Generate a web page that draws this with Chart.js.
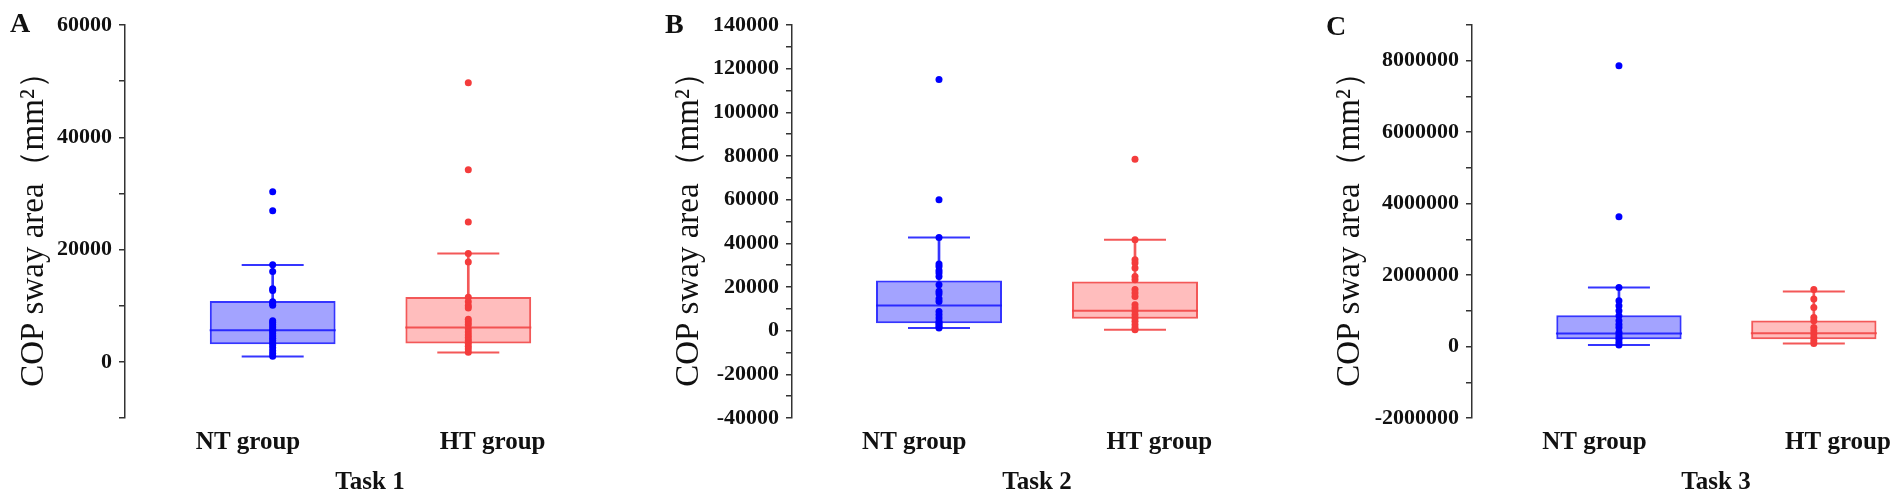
<!DOCTYPE html>
<html>
<head>
<meta charset="utf-8">
<script src="https://cdn.jsdelivr.net/npm/chart.js@4.4.1/dist/chart.umd.min.js"></script>
<style>
  html, body { margin: 0; padding: 0; background: #fff; width: 1902px; height: 501px; overflow: hidden; }
  canvas { position: absolute; top: 0; }
  .letter { position: absolute; font: bold 28px 'Liberation Serif', 'Times New Roman', serif; line-height: 28px; color: #111; }
</style>
</head>
<body>
<canvas id="chartA" width="615" height="501" style="left:0px"></canvas>
<canvas id="chartB" width="662" height="501" style="left:620px"></canvas>
<canvas id="chartC" width="670" height="501" style="left:1290px"></canvas>
<div class="letter" style="left:10px;top:9px">A</div>
<div class="letter" style="left:665px;top:10px">B</div>
<div class="letter" style="left:1326px;top:12px">C</div>
<script>
// Categories and captions
const groups = ['NT group', 'HT group'];
const tasks = ['Task 1', 'Task 2', 'Task 3'];
const yTitle = 'COP sway area（mm²）';

// Box summaries: [lower whisker, Q1, median, Q3, upper whisker]
const task1NT = [960, 3150, 5640, 10840, 17250];
const task1HT = [1670, 3270, 6110, 11560, 19320];
const task2NT = [1220, 3340, 11580, 23010, 42690];
const task2HT = [460, 5490, 9150, 22560, 41630];
const task3NT = [45000, 204000, 364000, 876000, 1652000];
const task3HT = [84000, 204000, 373000, 728000, 1540000];

// Individual subjects (estimated)
const task1NTPoints = [30300, 26900, 17300, 16100, 13000, 12700, 10700, 10400, 10100, 7300, 7000, 6600, 6200, 5800, 5400, 5000, 4600, 4200, 3800, 3400, 3000, 2500, 2000, 1500, 1000];
const task1HTPoints = [49700, 34200, 24900, 19300, 17800, 11500, 10700, 10000, 9600, 7600, 7100, 6600, 5900, 5300, 4800, 4300, 3800, 3300, 2800, 2300, 1700];
const task2NTPoints = [115000, 60000, 42700, 30500, 29400, 27600, 26400, 24800, 21000, 18000, 16900, 14600, 13400, 8800, 7300, 5800, 4300, 3400, 2700, 1900, 1200];
const task2HTPoints = [78500, 41600, 32500, 31000, 28700, 24800, 23300, 18800, 17200, 15700, 11900, 10400, 9000, 7300, 5800, 4300, 2700, 1200, 460];
const task3NTPoints = [7860000, 3630000, 1650000, 1280000, 1140000, 1000000, 860000, 720000, 620000, 530000, 400000, 320000, 250000, 200000, 110000, 40000];
const task3HTPoints = [1600000, 1330000, 1090000, 810000, 720000, 530000, 440000, 350000, 250000, 160000, 84000];

// Y axes: labelled ticks, range and minor step
const task1Ticks = [0, 20000, 40000, 60000];
const task2Ticks = [-40000, -20000, 0, 20000, 40000, 60000, 80000, 100000, 120000, 140000];
const task3Ticks = [-2000000, 0, 2000000, 4000000, 6000000, 8000000];
const yRanges = [[-10000, 60000], [-40000, 140000], [-2000000, 9000000]];
const minorSteps = [10000, 10000, 1000000];

// Page layout of the three panels
const panels = [
    { id: 'chartA', axisWidth: 125, titlePad: 18, xMin: 0.245 },
    { id: 'chartB', axisWidth: 172, titlePad: 53, xMin: 0.25 },
    { id: 'chartC', axisWidth: 182, titlePad: 44, xMin: 0.246 }
];
const labelSpots = [0.874, 2.124];

const serif = "'Liberation Serif', 'Times New Roman', serif";
const blue = { dot: '#0000ff', fill: 'rgba(0, 0, 255, 0.36)', line: 'rgba(25, 25, 255, 0.88)' };
const red = { dot: '#f43c3c', fill: 'rgba(255, 0, 0, 0.26)', line: 'rgba(242, 70, 70, 0.9)' };

function makePanel(i, stats, points, labelled) {
    const p = panels[i];
    const cols = [blue, red];
    const [yMin, yMax] = yRanges[i];
    const step = minorSteps[i];

    new Chart(document.getElementById(p.id), {
        type: 'bar',
        data: {
            datasets: [
                {   // whisker stems, above and below the box
                    type: 'bar',
                    data: stats.flatMap((s, g) => [{ x: g + 1, y: [s[3], s[4]] }, { x: g + 1, y: [s[0], s[1]] }]),
                    backgroundColor: [blue.line, blue.line, red.line, red.line],
                    barThickness: 2,
                    grouped: false,
                    order: 4
                },
                {   // boxes Q1..Q3
                    type: 'bar',
                    data: stats.map((s, g) => ({ x: g + 1, y: [s[1], s[3]] })),
                    backgroundColor: cols.map(c => c.fill),
                    borderColor: cols.map(c => c.line),
                    borderWidth: 2,
                    borderSkipped: false,
                    barPercentage: 0.643,
                    categoryPercentage: 1,
                    grouped: false,
                    order: 3
                },
                {   // whisker caps
                    type: 'scatter',
                    data: stats.flatMap((s, g) => [{ x: g + 1, y: s[0] }, { x: g + 1, y: s[4] }]),
                    pointStyle: 'line',
                    pointRadius: 31,
                    pointBorderWidth: 2,
                    pointBorderColor: [blue.line, blue.line, red.line, red.line],
                    order: 2
                },
                {   // medians
                    type: 'scatter',
                    data: stats.map((s, g) => ({ x: g + 1, y: s[2] })),
                    pointStyle: 'line',
                    pointRadius: 63,
                    pointBorderWidth: 2,
                    pointBorderColor: cols.map(c => c.line),
                    order: 2
                },
                ...points.map((vals, g) => ({
                    type: 'scatter',
                    data: vals.map(v => ({ x: g + 1, y: v })),
                    pointRadius: 3.5,
                    pointBorderWidth: 0,
                    pointBackgroundColor: cols[g].dot,
                    order: 1
                }))
            ]
        },
        options: {
            responsive: false,
            animation: false,
            layout: { autoPadding: false, padding: { top: 25, left: 0, right: 0, bottom: 0 } },
            plugins: { legend: { display: false }, tooltip: { enabled: false } },
            scales: {
                x: {
                    type: 'linear',
                    min: p.xMin,
                    max: 2.75,
                    offset: false,
                    afterBuildTicks: s => { s.ticks = labelSpots.map(v => ({ value: v })); },
                    afterFit: s => { s.height = 83; },
                    grid: { display: false, drawTicks: false, offset: false },
                    border: { display: false },
                    ticks: {
                        autoSkip: false, maxRotation: 0, padding: 10, color: '#111',
                        font: { family: serif, size: 25, weight: 'bold' },
                        callback: (v, idx) => groups[idx]
                    },
                    title: {
                        display: true, text: tasks[i], color: '#111',
                        font: { family: serif, size: 25, weight: 'bold', lineHeight: 1 },
                        padding: { top: 0, bottom: 5.5 }
                    }
                },
                y: {
                    min: yMin,
                    max: yMax,
                    afterBuildTicks: s => {
                        const t = [];
                        for (let v = yMin; v <= yMax; v += step) t.push({ value: v });
                        s.ticks = t;
                    },
                    afterFit: s => { s.width = p.axisWidth; },
                    grid: { drawOnChartArea: false, tickLength: 6, color: '#333', lineWidth: 1.5 },
                    border: { color: '#333', width: 1.5 },
                    ticks: {
                        autoSkip: false, padding: 7, color: '#111',
                        font: { family: serif, size: 22, weight: 'bold' },
                        callback: v => labelled.includes(v) ? String(v) : ''
                    },
                    title: {
                        display: true, text: yTitle, color: '#111',
                        font: { family: serif, size: 33, lineHeight: 1 },
                        padding: { top: p.titlePad - 0.5, bottom: 0 }
                    }
                }
            }
        }
    });
}

makePanel(0, [task1NT, task1HT], [task1NTPoints, task1HTPoints], task1Ticks);
makePanel(1, [task2NT, task2HT], [task2NTPoints, task2HTPoints], task2Ticks);
makePanel(2, [task3NT, task3HT], [task3NTPoints, task3HTPoints], task3Ticks);
</script>
</body>
</html>
